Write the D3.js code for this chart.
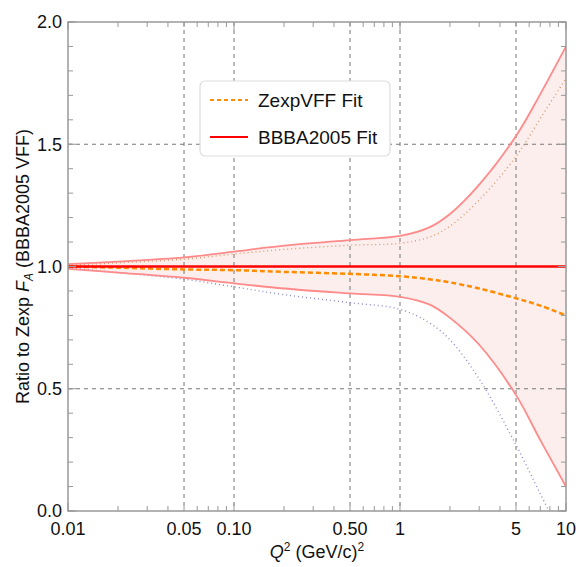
<!DOCTYPE html>
<html>
<head>
<meta charset="utf-8">
<script src="https://cdn.jsdelivr.net/npm/d3@7"></script>
<style>
  body { margin: 0; background: #fff; }
  svg { display: block; font-family: "Liberation Sans", Arial, sans-serif; }
</style>
</head>
<body>
<svg id="chart" width="584" height="567"></svg>
<script>
// Q^2 sample points (GeV/c)^2
let qPoints = [0.01, 0.02, 0.05, 0.1, 0.2, 0.5, 1, 1.5, 2, 3, 5, 7, 10];

// BBBA2005 band (solid pink edges)
let bandUpper = [1.01, 1.02, 1.037, 1.061, 1.085, 1.108, 1.125, 1.16, 1.215, 1.335, 1.534, 1.705, 1.90];
let bandLower = [0.99, 0.975, 0.954, 0.931, 0.91, 0.89, 0.876, 0.845, 0.79, 0.68, 0.474, 0.29, 0.10];

// ZexpVFF fit central value (orange dashed)
let zexpVFF = [1.0, 0.995, 0.988, 0.985, 0.978, 0.97, 0.96, 0.948, 0.935, 0.91, 0.87, 0.84, 0.80];

// dotted edges
let upperDotted = [1.005, 1.015, 1.03, 1.051, 1.07, 1.087, 1.095, 1.12, 1.165, 1.272, 1.45, 1.605, 1.77];
let lowerDottedQ = [0.01, 0.02, 0.05, 0.1, 0.2, 0.5, 1, 1.5, 2, 3, 5, 7, 7.9];
let lowerDotted = [0.995, 0.975, 0.948, 0.917, 0.885, 0.852, 0.825, 0.77, 0.70, 0.54, 0.27, 0.07, 0.0];

let xTickVals = [0.01, 0.05, 0.1, 0.5, 1, 5, 10];
let xTickLabels = ["0.01", "0.05", "0.10", "0.50", "1", "5", "10"];
let xGrid = [0.05, 0.1, 0.5, 1, 5];
let yTickVals = [0, 0.5, 1.0, 1.5, 2.0];
let yGrid = [0.5, 1.0, 1.5];

let margin = {top: 22, right: 18, bottom: 56, left: 68},
    width = 584 - margin.left - margin.right,
    height = 567 - margin.top - margin.bottom;

let svg = d3.select("#chart");
let g = svg.append("g").attr("transform", `translate(${margin.left},${margin.top})`);

let x = d3.scaleLog().domain([0.01, 10]).range([0, width]);
let y = d3.scaleLinear().domain([0, 2]).range([height, 0]);

let smooth = d3.curveCatmullRom.alpha(0.5);

g.append("clipPath").attr("id", "clip")
  .append("rect").attr("width", width).attr("height", height);

// band fill
let band = qPoints.map((q, i) => ({q: q, hi: bandUpper[i], lo: bandLower[i]}));
g.append("path")
  .datum(band)
  .attr("clip-path", "url(#clip)")
  .attr("fill", "#fdeeee")
  .attr("d", d3.area().curve(smooth)
    .x(d => x(d.q)).y0(d => y(d.lo)).y1(d => y(d.hi)));

// grid
g.selectAll(".gx").data(xGrid).enter().append("line")
  .attr("x1", d => x(d)).attr("x2", d => x(d))
  .attr("y1", 0).attr("y2", height)
  .attr("stroke", "#777").attr("stroke-width", 1).attr("stroke-dasharray", "4,4");
g.selectAll(".gy").data(yGrid).enter().append("line")
  .attr("y1", d => y(d)).attr("y2", d => y(d))
  .attr("x1", 0).attr("x2", width)
  .attr("stroke", "#777").attr("stroke-width", 1).attr("stroke-dasharray", "4,4");

let line = d3.line().curve(smooth).x(d => x(d[0])).y(d => y(d[1]));
let curves = g.append("g").attr("clip-path", "url(#clip)");

curves.append("path")
  .datum(qPoints.map((q, i) => [q, upperDotted[i]]))
  .attr("d", line).attr("fill", "none")
  .attr("stroke", "#d69a6a").attr("stroke-width", 1.4).attr("stroke-dasharray", "1,3");
curves.append("path")
  .datum(lowerDottedQ.map((q, i) => [q, lowerDotted[i]]))
  .attr("d", line).attr("fill", "none")
  .attr("stroke", "#8a8ad0").attr("stroke-width", 1.4).attr("stroke-dasharray", "1,3");

curves.append("path")
  .datum(qPoints.map((q, i) => [q, bandUpper[i]]))
  .attr("d", line).attr("fill", "none")
  .attr("stroke", "#ff8a8a").attr("stroke-width", 1.8);
curves.append("path")
  .datum(qPoints.map((q, i) => [q, bandLower[i]]))
  .attr("d", line).attr("fill", "none")
  .attr("stroke", "#ff8a8a").attr("stroke-width", 1.8);

curves.append("path")
  .datum(qPoints.map((q, i) => [q, zexpVFF[i]]))
  .attr("d", line).attr("fill", "none")
  .attr("stroke", "#ff8c00").attr("stroke-width", 2.5).attr("stroke-dasharray", "5,3");

curves.append("line")
  .attr("x1", 0).attr("x2", width).attr("y1", y(1)).attr("y2", y(1))
  .attr("stroke", "#ff0000").attr("stroke-width", 2.5);

// frame
g.append("rect").attr("width", width).attr("height", height)
  .attr("fill", "none").attr("stroke", "#999").attr("stroke-width", 1.5);

// x ticks (bottom + top, inward)
let xMinor = [];
[0.01, 0.1, 1].forEach(dec => { for (let k = 2; k <= 9; k++) xMinor.push(dec * k); });
let xMajor = [0.01, 0.1, 1, 10];
function xTicks(vals, len) {
  g.selectAll(null).data(vals).enter().append("line")
    .attr("x1", d => x(d)).attr("x2", d => x(d))
    .attr("y1", height).attr("y2", height - len)
    .attr("stroke", "#999");
  g.selectAll(null).data(vals).enter().append("line")
    .attr("x1", d => x(d)).attr("x2", d => x(d))
    .attr("y1", 0).attr("y2", len)
    .attr("stroke", "#999");
}
xTicks(xMinor, 5);
xTicks(xMajor, 8);

let yMinor = d3.range(0, 21).map(i => i / 10);
function yTicks(vals, len) {
  g.selectAll(null).data(vals).enter().append("line")
    .attr("y1", d => y(d)).attr("y2", d => y(d))
    .attr("x1", 0).attr("x2", len).attr("stroke", "#999");
  g.selectAll(null).data(vals).enter().append("line")
    .attr("y1", d => y(d)).attr("y2", d => y(d))
    .attr("x1", width).attr("x2", width - len).attr("stroke", "#999");
}
yTicks(yMinor, 5);
yTicks(yTickVals, 8);

// tick labels
g.selectAll(".xl").data(xTickVals).enter().append("text")
  .attr("x", d => x(d)).attr("y", height + 24)
  .attr("text-anchor", "middle").attr("font-size", 18).attr("fill", "#111")
  .text((d, i) => xTickLabels[i]);
g.selectAll(".yl").data(yTickVals).enter().append("text")
  .attr("x", -6).attr("y", d => y(d)).attr("dy", "0.35em")
  .attr("text-anchor", "end").attr("font-size", 18).attr("fill", "#111")
  .text(d => d3.format(".1f")(d));

// axis titles
let xt = svg.append("text")
  .attr("x", margin.left + width / 2).attr("y", 558)
  .attr("text-anchor", "middle").attr("font-size", 18).attr("fill", "#111");
xt.append("tspan").attr("font-style", "italic").text("Q");
xt.append("tspan").attr("dy", -7).attr("font-size", 12).text("2");
xt.append("tspan").attr("dy", 7).text(" (GeV/c)");
xt.append("tspan").attr("dy", -7).attr("font-size", 12).text("2");

let yt = svg.append("text")
  .attr("transform", `translate(29,${margin.top + height / 2}) rotate(-90)`)
  .attr("text-anchor", "middle").attr("font-size", 18).attr("fill", "#111");
yt.append("tspan").text("Ratio to Zexp ");
yt.append("tspan").attr("font-style", "italic").text("F");
yt.append("tspan").attr("dy", 4).attr("font-size", 12).attr("font-style", "italic").text("A");
yt.append("tspan").attr("dy", -4).text(" (BBBA2005 VFF)");

// legend
let leg = svg.append("g").attr("transform", "translate(200,81)");
leg.append("rect").attr("width", 190).attr("height", 75).attr("rx", 5)
  .attr("fill", "#fff").attr("stroke", "#ddd").attr("stroke-width", 1.2);
let legItems = [
  {label: "ZexpVFF Fit", color: "#ff8c00", dash: "4,3", w: 1.8},
  {label: "BBBA2005 Fit", color: "#ff0000", dash: null, w: 2}
];
legItems.forEach((it, i) => {
  let yy = 19 + i * 37;
  leg.append("line").attr("x1", 10).attr("x2", 48).attr("y1", yy).attr("y2", yy)
    .attr("stroke", it.color).attr("stroke-width", it.w)
    .attr("stroke-dasharray", it.dash);
  leg.append("text").attr("x", 58).attr("y", yy).attr("dy", "0.35em")
    .attr("font-size", 19).attr("fill", "#111").text(it.label);
});
</script>
</body>
</html>
